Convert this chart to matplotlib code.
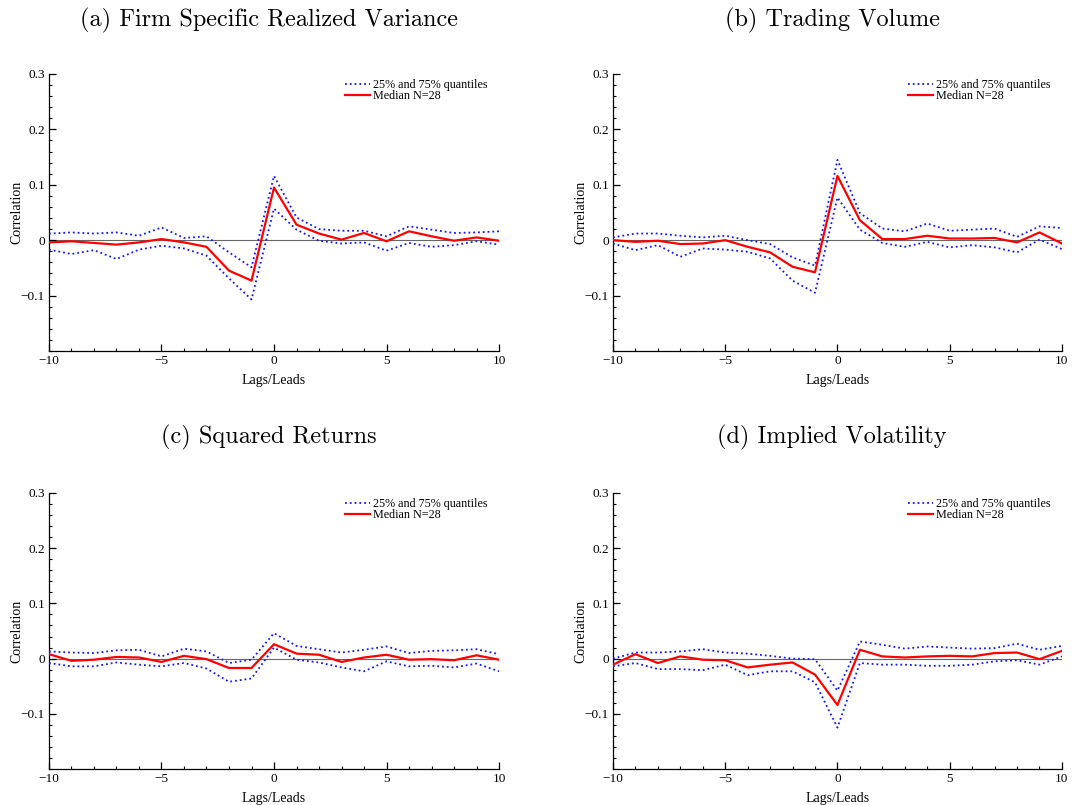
import matplotlib
matplotlib.use("Agg")
import matplotlib.pyplot as plt
from matplotlib.ticker import MultipleLocator, FuncFormatter
import numpy as np

lags = list(range(-10, 11))

titles = ["(a) Firm Specific Realized Variance", "(b) Trading Volume",
          "(c) Squared Returns", "(d) Implied Volatility"]

a_upper = [0.012, 0.014, 0.012, 0.014, 0.008, 0.023, 0.004, 0.007, -0.022, -0.049, 0.116,
           0.041, 0.020, 0.017, 0.017, 0.007, 0.025, 0.019, 0.013, 0.014, 0.016]
a_median = [-0.004, -0.002, -0.005, -0.008, -0.004, 0.002, -0.004, -0.012, -0.055, -0.073, 0.095,
            0.028, 0.012, 0.001, 0.013, -0.002, 0.016, 0.007, -0.001, 0.005, -0.001]
a_lower = [-0.017, -0.025, -0.018, -0.034, -0.017, -0.010, -0.015, -0.028, -0.069, -0.107, 0.057,
           0.019, -0.001, -0.006, -0.004, -0.019, -0.005, -0.012, -0.009, -0.002, -0.008]

b_upper = [0.005, 0.012, 0.012, 0.008, 0.005, 0.008, 0.000, -0.007, -0.031, -0.046, 0.145,
           0.049, 0.021, 0.016, 0.030, 0.017, 0.019, 0.021, 0.006, 0.025, 0.022]
b_median = [0.000, -0.003, -0.001, -0.007, -0.006, 0.000, -0.012, -0.022, -0.048, -0.058, 0.116,
            0.036, 0.002, 0.002, 0.008, 0.003, 0.003, 0.004, -0.004, 0.014, -0.006]
b_lower = [-0.006, -0.018, -0.009, -0.030, -0.015, -0.017, -0.021, -0.033, -0.073, -0.095, 0.077,
           0.019, -0.005, -0.012, -0.003, -0.013, -0.009, -0.013, -0.022, 0.001, -0.016]

c_upper = [0.013, 0.011, 0.010, 0.015, 0.016, 0.004, 0.018, 0.013, -0.008, -0.002, 0.046,
           0.023, 0.017, 0.011, 0.016, 0.022, 0.010, 0.014, 0.015, 0.017, 0.008]
c_median = [0.008, -0.004, -0.002, 0.003, 0.002, -0.006, 0.005, -0.001, -0.017, -0.017, 0.026,
            0.009, 0.007, -0.006, 0.002, 0.007, -0.002, -0.001, -0.003, 0.006, -0.002]
c_lower = [-0.008, -0.014, -0.014, -0.007, -0.011, -0.014, -0.008, -0.018, -0.042, -0.036, 0.020,
           -0.002, -0.007, -0.016, -0.023, -0.005, -0.014, -0.013, -0.016, -0.009, -0.023]

d_upper = [0.000, 0.011, 0.011, 0.013, 0.017, 0.011, 0.009, 0.005, 0.000, -0.001, -0.058,
           0.031, 0.025, 0.018, 0.022, 0.020, 0.018, 0.019, 0.027, 0.016, 0.023]
d_median = [-0.011, 0.008, -0.008, 0.004, -0.002, -0.003, -0.016, -0.011, -0.007, -0.029, -0.084,
            0.016, 0.004, 0.002, 0.004, 0.005, 0.004, 0.010, 0.011, -0.001, 0.014]
d_lower = [-0.014, -0.008, -0.019, -0.019, -0.021, -0.011, -0.030, -0.023, -0.023, -0.043, -0.125,
           -0.008, -0.011, -0.011, -0.013, -0.013, -0.011, -0.005, -0.003, -0.011, 0.004]

panels = [(a_upper, a_median, a_lower), (b_upper, b_median, b_lower),
          (c_upper, c_median, c_lower), (d_upper, d_median, d_lower)]

serif = ["Liberation Serif", "DejaVu Serif"]

fig = plt.figure(figsize=(10.72, 8.05), dpi=100)

positions = [
    (0.0457, 0.5640, 0.4198, 0.3441),
    (0.5718, 0.5640, 0.4188, 0.3441),
    (0.0457, 0.0447, 0.4198, 0.3429),
    (0.5718, 0.0447, 0.4188, 0.3429),
]
title_y = [1 - 20 / 805, 1 - 20 / 805, 1 - 437 / 805, 1 - 437 / 805]


def fmt(v, pos):
    if abs(v) < 1e-9:
        return "0"
    s = ("%g" % abs(v))
    return ("\u2212" + s) if v < 0 else s


for i, (pos, (up, med, lo)) in enumerate(zip(positions, panels)):
    ax = fig.add_axes(pos)
    ax.axhline(0, color="#666666", lw=0.8, zorder=1)
    ax.plot(lags, up, color="#1515ff", ls=":", lw=1.3, zorder=3,
            label="25% and 75% quantiles")
    ax.plot(lags, med, color="#ff0000", ls="-", lw=1.6, zorder=4,
            label="Median N=28")
    ax.plot(lags, lo, color="#1515ff", ls=":", lw=1.3, zorder=3)
    ax.set_xlim(-10, 10)
    ax.set_ylim(-0.2, 0.3)
    ax.spines["top"].set_visible(False)
    ax.spines["right"].set_visible(False)
    ax.spines["left"].set_linewidth(0.9)
    ax.spines["bottom"].set_linewidth(0.9)
    ax.xaxis.set_major_locator(MultipleLocator(5))
    ax.xaxis.set_minor_locator(MultipleLocator(1))
    ax.set_yticks([-0.1, 0, 0.1, 0.2, 0.3])
    ax.yaxis.set_minor_locator(MultipleLocator(0.02))
    ax.xaxis.set_major_formatter(FuncFormatter(fmt))
    ax.yaxis.set_major_formatter(FuncFormatter(fmt))
    ax.tick_params(which="major", direction="in", length=5, width=0.9,
                   labelsize=9.5, pad=3)
    ax.tick_params(which="minor", direction="in", length=2.5, width=0.8)
    for lab in ax.get_xticklabels() + ax.get_yticklabels():
        lab.set_family(serif)
    ax.set_ylabel("Correlation", family=serif, fontsize=10, labelpad=-2)
    ax.set_xlabel("Lags/Leads", family=serif, fontsize=10, labelpad=5)
    leg = ax.legend(loc="upper right", frameon=False, prop={"family": serif, "size": 8.7},
                    handlelength=2.0, handletextpad=0.3, labelspacing=-0.03,
                    borderaxespad=0.0, bbox_to_anchor=(0.986, 1.0))
    cx = pos[0] + pos[2] / 2
    fig.text(cx - 0.005, title_y[i], titles[i], family=["cmr10", "DejaVu Serif"],
             fontsize=17.5, ha="center", va="center")

fig.savefig("out.png", dpi=100)
